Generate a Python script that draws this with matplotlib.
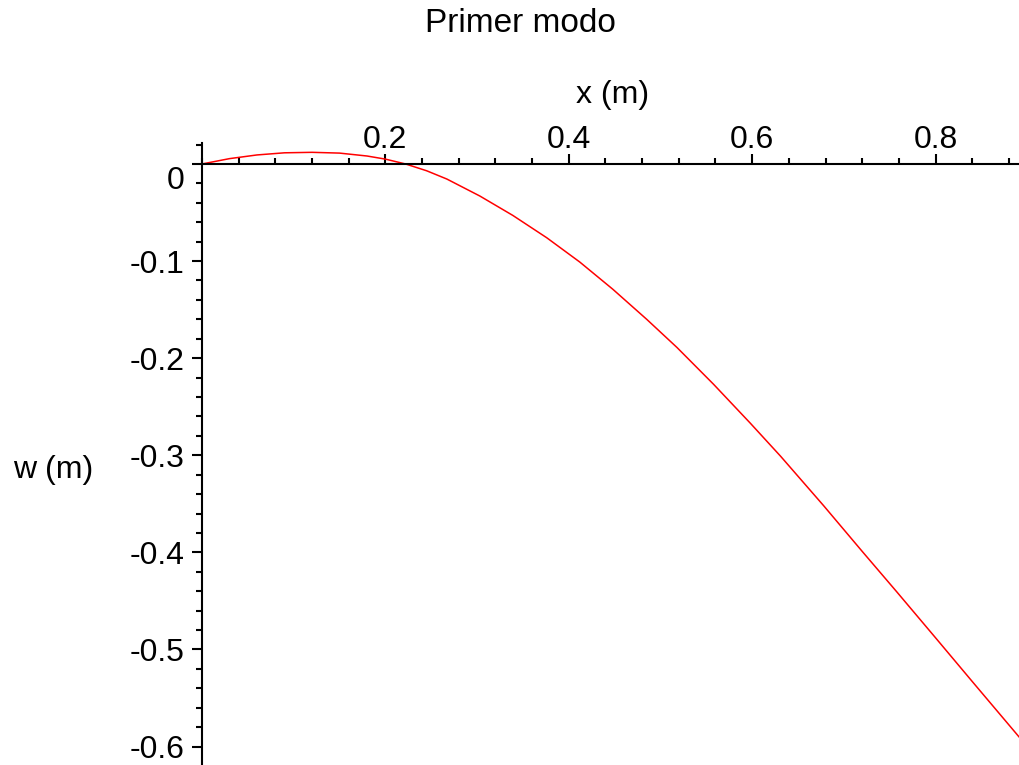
import matplotlib
matplotlib.use("Agg")
import matplotlib.pyplot as plt
import matplotlib.transforms as mtrans
from matplotlib.ticker import MultipleLocator

# mode shape (x in m, w in m)
x_m = [0.0, 0.03, 0.06, 0.09, 0.12, 0.15, 0.18, 0.20, 0.222, 0.245,
       0.267, 0.303, 0.339, 0.376, 0.412, 0.448, 0.485, 0.518, 0.558,
       0.598, 0.631, 0.678, 0.72, 0.758, 0.80, 0.84, 0.891]
w_m = [0.0, 0.0055, 0.0093, 0.0115, 0.012, 0.0112, 0.0082, 0.005, 0.0,
       -0.007, -0.0155, -0.033, -0.053, -0.076, -0.101, -0.129, -0.160,
       -0.189, -0.227, -0.267, -0.301, -0.352, -0.399, -0.441, -0.488,
       -0.533, -0.590]

x_ticks = [0.2, 0.4, 0.6, 0.8]
y_ticks = [0.0, -0.1, -0.2, -0.3, -0.4, -0.5, -0.6]

plt.rcParams["font.family"] = ["Liberation Sans", "DejaVu Sans"]
FS = 23

fig = plt.figure(figsize=(10.19, 7.65), dpi=100)
W, H = 1019, 765
ax = fig.add_axes([202 / W, 0, 817 / W, (765 - 143) / H])
ax.plot(x_m, w_m, color="#ff0000", lw=1.1)
ax.set_xlim(0, 0.891)
ax.set_ylim(-0.619, 0.0216)

# Maple style axes crossing at the origin
for s in ("right", "bottom"):
    ax.spines[s].set_visible(False)
ax.spines["top"].set_position(("data", 0))
ax.spines["left"].set_position(("data", 0))
for s in ("top", "left"):
    ax.spines[s].set_linewidth(1.5)

ax.xaxis.tick_top()
ax.set_xticks(x_ticks)
ax.set_xticklabels([f"{v:.1f}" for v in x_ticks])
ax.xaxis.set_minor_locator(MultipleLocator(0.04))
ax.set_yticks(y_ticks)
ax.set_yticklabels(["0" if v == 0 else f"{v:.1f}" for v in y_ticks])
ax.yaxis.set_minor_locator(MultipleLocator(0.02))
ax.tick_params(which="major", length=7.5, width=1.5, labelsize=FS, color="black")
ax.tick_params(which="minor", length=4.5, width=1.5, color="black")
ax.tick_params(axis="x", which="both", direction="out", pad=-1)
ax.tick_params(axis="y", which="both", direction="out", pad=5)
# the zero label sits a little below its tick in the reference
for lab in ax.get_yticklabels():
    if lab.get_text() == "0":
        lab.set_transform(lab.get_transform()
                          + mtrans.ScaledTranslation(0, -14 / 100, fig.dpi_scale_trans))

fig.text(520 / W, 1 - 24 / H, "Primer modo", ha="center", va="center", fontsize=24)
fig.text(613 / W, 1 - 95 / H, "x (m)", ha="center", va="center", fontsize=FS)
fig.text(53 / W, 1 - 470 / H, "w (m)", ha="center", va="center", fontsize=FS)

fig.savefig("out.png", dpi=100)
